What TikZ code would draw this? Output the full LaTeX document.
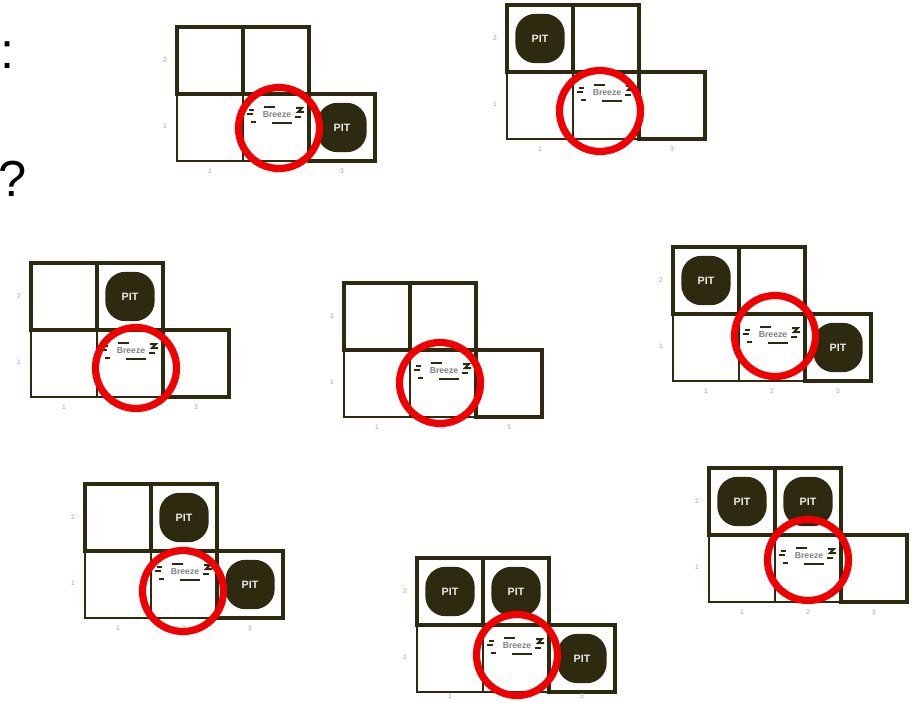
\documentclass[tikz,border=0pt]{standalone}
\usepackage{fontspec}
\setmainfont{Liberation Sans}
\usepackage{tikz}
\usetikzlibrary{calc}
\definecolor{pitdark}{HTML}{2E2A10}
\definecolor{probered}{HTML}{F00000}
\definecolor{labelgray}{HTML}{A0A0A0}
\tikzset{
  thincell/.style={draw=pitdark, line width=2.2pt, minimum width=49.5pt, minimum height=50.25pt, inner sep=0pt, outer sep=0pt},
  thickcell/.style={thincell, line width=3.6pt},
  pit/.style={rectangle, rounded corners=15pt, fill=pitdark, text=white!85!gray, minimum size=37pt, inner sep=0pt, font=\bfseries\fontsize{8}{8}\selectfont},
  probe/.style={circle, draw=probered, line width=5.4pt, minimum size=60.75pt, inner sep=0pt},
  breeze/.style={text=gray, inner sep=0.5pt, font=\bfseries\fontsize{6.5}{6.5}\selectfont},
  gust/.style={draw=pitdark, line width=1.5pt},
  axislabel/.style={text=labelgray, inner sep=0pt, font=\fontsize{5}{5}\selectfont},
  bigmark/.style={anchor=base west, inner sep=0pt, font=\fontsize{38}{38}\selectfont}
}
% one 2+3 cell board, #2,#3 = corner between cells 11, 12, 21, 22
\newcommand{\wboard}[4][77]{%
  \begin{scope}[shift={(#3,#4)}]
    \node[thincell] (#2-11) at (-33,33.5) {};
    \node[thincell] (#2-21) at (33,33.5) {};
    \node[thickcell] (#2-12) at (-33,-33.5) {};
    \node[thickcell] (#2-22) at (33,-33.5) {};
    \node[thickcell] (#2-31) at (99,33.5) {};
    \node[axislabel] (#2-row2) at (-78,-34) {2};
    \node[axislabel] (#2-row1) at (-78,32) {1};
    \node[axislabel] (#2-col1) at (-33,#1) {1};
    \node[axislabel] (#2-col2) at (33,#1) {2};
    \node[axislabel] (#2-col3) at (99,#1) {3};
    \node[breeze] (#2-breeze) at (34,21) {Breeze};
    \draw[gust] ([shift={(-28,-5)}]#2-breeze.center) -- ++(5,0);
    \draw[gust] ([shift={(-30,-1)}]#2-breeze.center) -- ++(6,0);
    \draw[gust] ([shift={(-26,7)}]#2-breeze.center) -- ++(5,0);
    \draw[gust] ([shift={(-13,-8)}]#2-breeze.center) -- ++(11,0);
    \draw[gust] ([shift={(19,-7)}]#2-breeze.center) -- ++(6,0) -- ++(-4,4) -- ++(6,0);
    \draw[gust] ([shift={(18,2)}]#2-breeze.center) -- ++(6,0);
    \draw[gust] ([shift={(-5,8)}]#2-breeze.center) -- ++(20,0);
  \end{scope}}

\begin{document}
\begin{tikzpicture}[x=0.75pt,y=-0.75pt]
  \fill[white] (0,0) rectangle (912,702);
  \useasboundingbox (0,0) rectangle (912,702);

  \node[bigmark] (colon) at (0,69) {:};
  \node[bigmark] (qmark) at (-2,197) {?};

  % boards
  \wboard{b1}{243}{94}
  \wboard{b2}{573}{72}
  \wboard{b3}{97}{330}
  \wboard{b4}{410}{350}
  \wboard{b5}{739}{314}
  \wboard{b6}{151}{551}
  \wboard[71]{b7}{483}{625}
  \wboard{b8}{775}{535}

  % pits
  \node[pit] (b1-pit31) at (b1-31) {PIT};
  \node[pit] (b2-pit12) at (b2-12) {PIT};
  \node[pit] (b3-pit22) at (b3-22) {PIT};
  \node[pit] (b5-pit12) at (b5-12) {PIT};
  \node[pit] (b5-pit31) at (b5-31) {PIT};
  \node[pit] (b6-pit22) at (b6-22) {PIT};
  \node[pit] (b6-pit31) at (b6-31) {PIT};
  \node[pit] (b7-pit12) at (b7-12) {PIT};
  \node[pit] (b7-pit22) at (b7-22) {PIT};
  \node[pit] (b7-pit31) at (b7-31) {PIT};
  \node[pit] (b8-pit12) at (b8-12) {PIT};
  \node[pit] (b8-pit22) at (b8-22) {PIT};

  % red rings on the breezy square
  \node[probe] (b1-ring) at (279,128) {};
  \node[probe] (b2-ring) at (600,111) {};
  \node[probe] (b3-ring) at (136,368) {};
  \node[probe] (b4-ring) at (440,383) {};
  \node[probe] (b5-ring) at (775,336) {};
  \node[probe] (b6-ring) at (183,591) {};
  \node[probe] (b7-ring) at (517,655) {};
  \node[probe] (b8-ring) at (808,560) {};
\end{tikzpicture}
\end{document}
